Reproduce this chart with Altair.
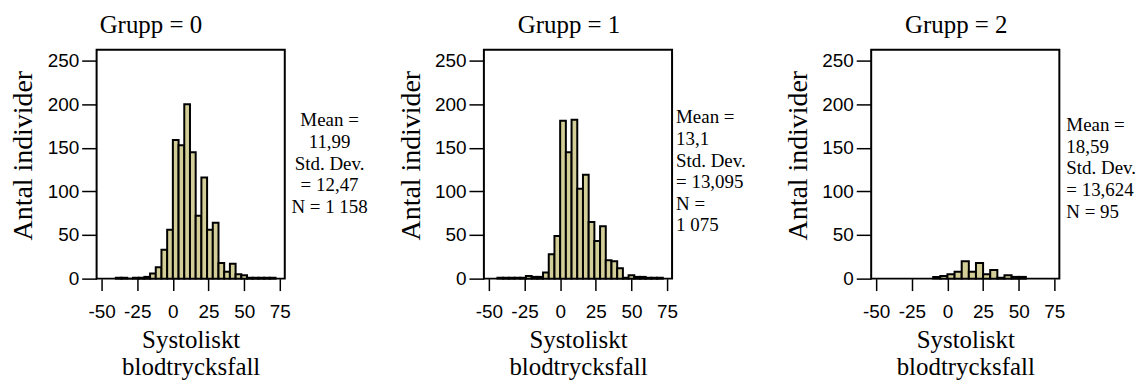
import altair as alt
import pandas as pd

groups = ["Grupp = 0", "Grupp = 1", "Grupp = 2"]
bin_width = [4, 4, 5]

start_0 = [-40, -36, -32, -28, -24, -20, -16, -12, -8, -4, 0, 4, 8, 12, 16, 20, 24, 28,
           32, 36, 40, 44, 48, 52, 56, 60, 64, 68]
count_0 = [1, 1, 0, 1, 1, 2, 6, 13, 33, 56, 159, 153, 200, 145, 72, 116, 56, 64,
           18, 8, 17, 5, 4, 1, 1, 1, 1, 1]

start_1 = [-44, -40, -36, -32, -28, -24, -20, -16, -12, -8, -4, 0, 4, 8, 12, 16, 20, 24,
           28, 32, 36, 40, 44, 48, 52, 56, 60, 64, 68]
count_1 = [1, 1, 1, 1, 1, 3, 2, 2, 7, 28, 49, 181, 145, 182, 103, 119, 65, 43,
           60, 21, 20, 12, 1, 4, 2, 2, 1, 1, 1]

start_2 = [-10, -5, 0, 5, 10, 15, 20, 25, 30, 35, 40, 45, 50]
count_2 = [2, 3, 5, 8, 20, 8, 18, 5, 10, 1, 4, 2, 2]

stats_0 = ["Mean =", "11,99", "Std. Dev.", "= 12,47", "N = 1 158"]
stats_1 = ["Mean =", "\u00a013,1", "Std. Dev.", "= 13,095", "N =", "\u00a01 075"]
stats_2 = ["Mean =", "18,59", "Std. Dev.", "= 13,624", "N = 95"]

x_ticks = [-50, -25, 0, 25, 50, 75]
y_ticks = [0, 50, 100, 150, 200, 250]

starts = [start_0, start_1, start_2]
counts = [count_0, count_1, count_2]
stats = [stats_0, stats_1, stats_2]

W, H = 189, 230
title_dx = [-40, -9, -9]
stat_align = ["center", "left", "left"]
stat_x = [234, 193, 196]
stat_y = [62, 59, 67]

SERIF = "Liberation Serif"
SANS = "Liberation Sans"
FILL = "#d3ce97"


def panel(i):
    df = pd.DataFrame({
        "start": starts[i],
        "end": [s + bin_width[i] for s in starts[i]],
        "count": counts[i],
    })
    bars = alt.Chart(df).mark_bar(fill=FILL, stroke="black", strokeWidth=2,
                                  orient="vertical").encode(
        x=alt.X("start:Q",
                scale=alt.Scale(domain=[-50, 75], nice=False, zero=False),
                axis=alt.Axis(values=x_ticks, tickSize=12, tickWidth=1.5, tickColor="black",
                              domain=False, grid=False, labelFont=SANS, labelFontSize=19,
                              labelColor="black", labelPadding=12, labelFlush=False,
                              labelOverlap=False, labelExpr="'' + datum.value",
                              title=["Systoliskt", "blodtrycksfall"], titleFont=SERIF,
                              titleFontSize=25, titleFontWeight="normal", titleColor="black",
                              titleLineHeight=27, titlePadding=6)),
        x2="end:Q",
        y=alt.Y("count:Q",
                scale=alt.Scale(domain=[0, 262.5], nice=False, zero=True),
                axis=alt.Axis(values=y_ticks, tickSize=15, tickWidth=1.5, tickColor="black",
                              domain=False, grid=False, labelFont=SANS, labelFontSize=19,
                              labelColor="black", labelPadding=3,
                              title="Antal individer", titleFont=SERIF, titleFontSize=28,
                              titleFontWeight="normal", titleColor="black",
                              titleX=-73, titleY=106, titleBaseline="middle")),
        y2=alt.datum(0),
    )
    tdf = pd.DataFrame({"t": ["\n".join(stats[i])]})
    text = alt.Chart(tdf).mark_text(
        align=stat_align[i], baseline="top", font=SERIF, fontSize=19,
        lineHeight=21.7, lineBreak="\n", color="black"
    ).encode(x=alt.value(stat_x[i]), y=alt.value(stat_y[i]), text="t:N")
    return alt.layer(bars, text).properties(
        width=W, height=H,
        title=alt.TitleParams(text=groups[i], font=SERIF, fontSize=25, fontWeight="normal",
                              color="black", anchor="middle", dx=title_dx[i], offset=12),
    )


chart = alt.hconcat(panel(0), panel(1), panel(2), spacing=200, bounds="flush").properties(
    padding={"left": 0, "top": 3, "right": 0, "bottom": 0},
    background="white",
).configure_view(stroke="black", strokeWidth=2)

chart.save("out.html", embed_options={"renderer": "svg", "actions": False})
